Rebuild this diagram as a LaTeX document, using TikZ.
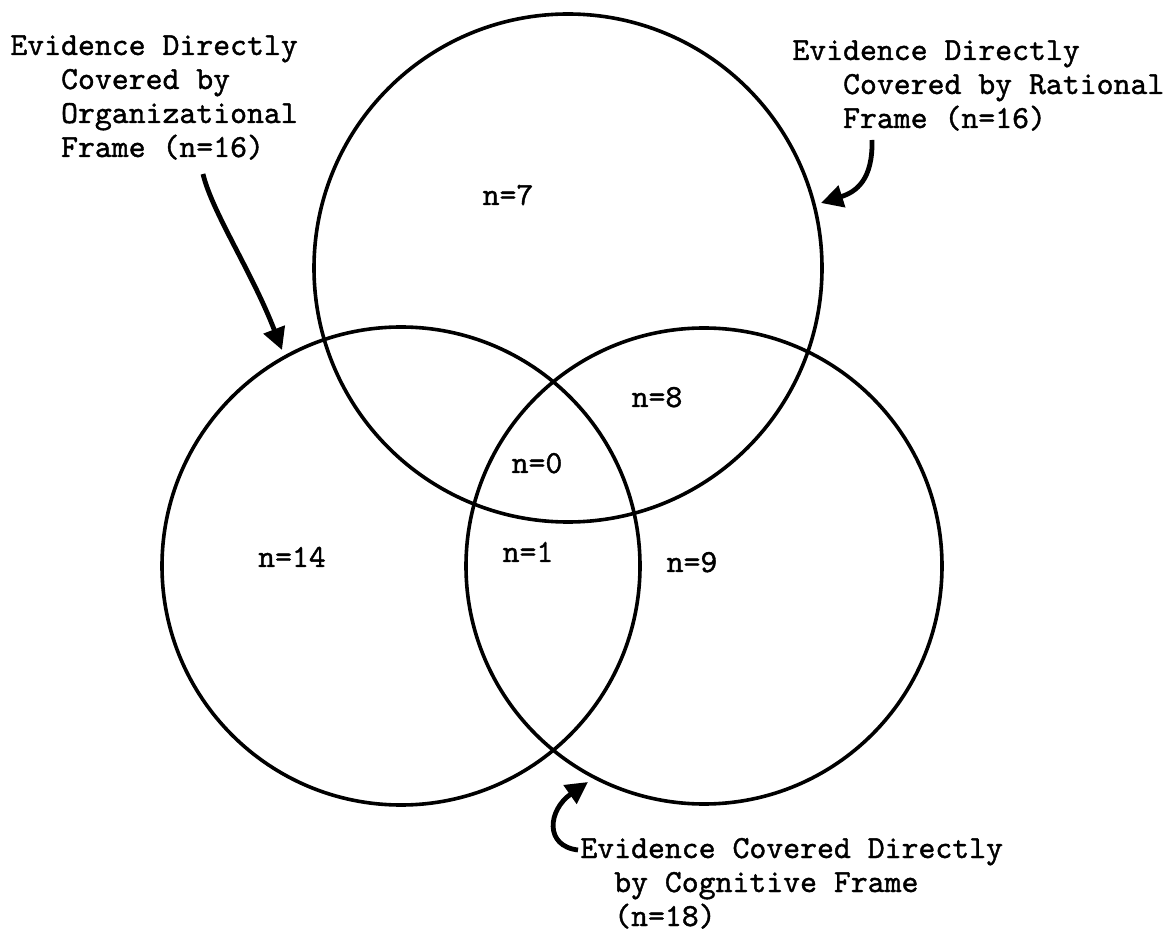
\documentclass[tikz,border=0pt]{standalone}
\usepackage{fontspec}
\newfontfamily\typer{lmmono10-regular.otf}[FakeBold=1.2]
\usetikzlibrary{arrows.meta}
\begin{document}
\begin{tikzpicture}[x=0.5pt,y=-0.5pt,
  setcircle/.style={draw=black,circle,line width=1.8pt,inner sep=0pt},
  typed/.style={font=\typer\bfseries\fontsize{16.1}{17}\selectfont,inner sep=0pt,text=black},
  caption/.style={typed,align=left,anchor=base west},
  count/.style={typed,anchor=base},
  pointer/.style={line width=2.4pt,-{Triangle[length=11pt,width=11pt]}}]
\useasboundingbox[fill=white] (0,0) rectangle (1168,935);

% the three frames
\node[setcircle,minimum size=254pt] (rational) at (568,268) {};
\node[setcircle,minimum size=239pt] (organizational) at (401,566) {};
\node[setcircle,minimum size=238pt] (cognitive) at (704,566) {};

% counts in each region
\node[count] (n7)  at (508,205) {n=7};
\node[count] (n8)  at (657,407) {n=8};
\node[count] (n0)  at (537,473) {n=0};
\node[count] (n1)  at (528,562) {n=1};
\node[count] (n14) at (292,567) {n=14};
\node[count] (n9)  at (692,572) {n=9};

% captions (placed by the baseline of their last line)
\node[caption] (orgcap) at (10,157)
  {Evidence Directly\\\hspace*{1.575em}Covered by\\\hspace*{1.575em}Organizational\\\hspace*{1.575em}Frame (n=16)};
\node[caption] (ratcap) at (792,128)
  {Evidence Directly\\\hspace*{1.575em}Covered by Rational\\\hspace*{1.575em}Frame (n=16)};
\node[caption] (cogcap) at (580,926)
  {Evidence Covered Directly\\\hspace*{1.05em}by Cognitive Frame\\\hspace*{1.05em}(n=18)};

% pointer ends
\coordinate (orgtail) at (203,174);
\coordinate (orghead) at (282,350);
\coordinate (rattail) at (872,140);
\coordinate (rathead) at (821,203);
\coordinate (cogtail) at (578,850);
\coordinate (coghead) at (588,782);

\draw[pointer] (orgtail) .. controls (212,212) and (252,272) .. (orghead);
\draw[pointer] (rattail) .. controls (873,180) and (856,192) .. (rathead);
\draw[pointer] (cogtail) .. controls (544,846) and (548,810) .. (coghead);
\end{tikzpicture}
\end{document}
